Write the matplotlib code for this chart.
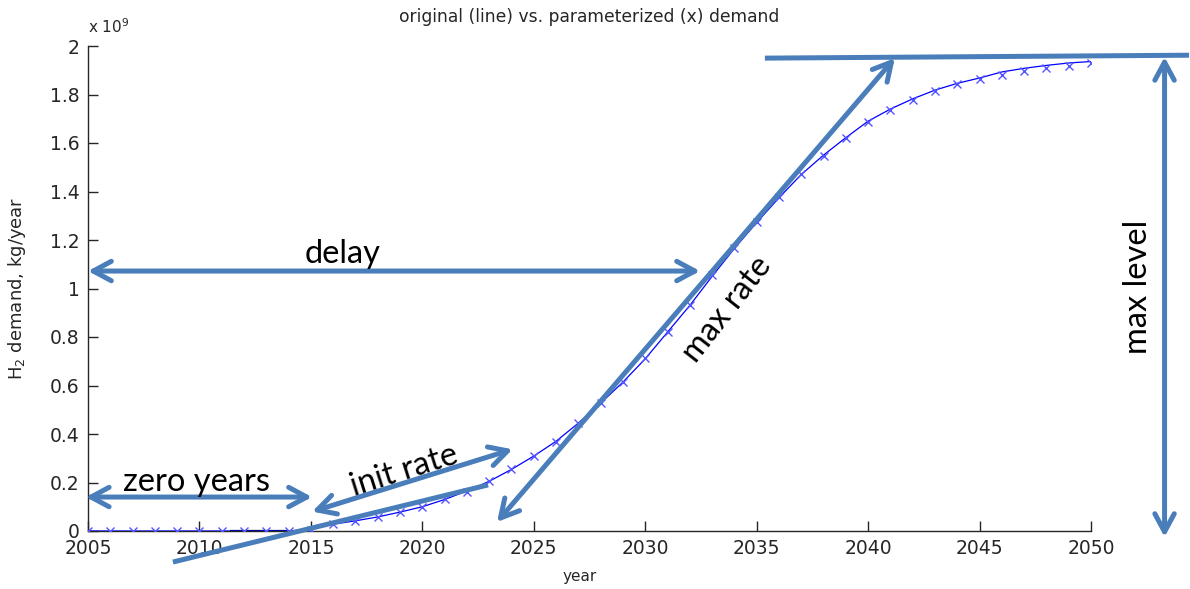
import matplotlib
matplotlib.use("Agg")
import matplotlib.pyplot as plt
import numpy as np

# ---- data (demand in units of 1e9 kg/year) ----
years = list(range(2005, 2051))

param_demand = [0, 0, 0, 0, 0, 0, 0, 0, 0, 0,
                0.005, 0.030, 0.040, 0.058, 0.077, 0.100, 0.130, 0.162, 0.205, 0.254,
                0.309, 0.368, 0.447, 0.527, 0.616, 0.712, 0.822, 0.932, 1.056, 1.168,
                1.276, 1.376, 1.472, 1.548, 1.620, 1.688, 1.738, 1.778, 1.815, 1.842,
                1.863, 1.880, 1.897, 1.908, 1.919, 1.929]

orig_demand = [0, 0, 0, 0, 0, 0, 0, 0, 0, 0,
               0.008, 0.028, 0.042, 0.058, 0.078, 0.100, 0.130, 0.165, 0.205, 0.254,
               0.309, 0.370, 0.445, 0.527, 0.614, 0.710, 0.820, 0.930, 1.050, 1.165,
               1.272, 1.374, 1.470, 1.550, 1.622, 1.690, 1.740, 1.782, 1.818, 1.846,
               1.868, 1.893, 1.908, 1.920, 1.930, 1.936]

# short dark segment of the original series along zero
zero_seg_years = [2011.4, 2013.9]
zero_seg_vals = [0, 0]

y_ticks = [0, 0.2, 0.4, 0.6, 0.8, 1, 1.2, 1.4, 1.6, 1.8, 2]
x_ticks = [2005, 2010, 2015, 2020, 2025, 2030, 2035, 2040, 2045, 2050]

# annotation geometry (data coordinates)
delay_span = ((2005.0, 1.072), (2032.46, 1.072))
zero_span = ((2004.9, 0.140), (2015.05, 0.140))
init_span = ((2015.06, 0.080), (2024.05, 0.337))
init_tangent = ((2008.81, -0.128), (2022.95, 0.190))
max_span = ((2023.35, 0.037), (2041.2, 1.950))
level_line = ((2035.37, 1.950), (2054.4, 1.962))
level_span = ((2053.3, 1.955), (2053.3, -0.025))

ANN = "#4a7ebb"
AXC = "#262626"

fig = plt.figure(figsize=(11.9, 5.89), dpi=100)
ax = fig.add_axes([88 / 1190, 1 - 531 / 589, (1091 - 88) / 1190, (531 - 46) / 589])

ax.plot(years, orig_demand, color="#0000ff", lw=0.9, zorder=3)
ax.plot(years, param_demand, ls="none", marker="x", ms=6, mew=1.0,
        color="#5555ff", zorder=3)
ax.plot(zero_seg_years, zero_seg_vals, color="black", lw=1.6, zorder=2)

ax.set_xlim(2005, 2050)
ax.set_ylim(0, 2)
ax.set_xticks(x_ticks)
ax.set_yticks(y_ticks)
ax.set_yticklabels(["%g" % v for v in y_ticks])
ax.set_xticklabels([str(v) for v in x_ticks])
for s in ("top", "right"):
    ax.spines[s].set_visible(False)
for s in ("left", "bottom"):
    ax.spines[s].set_color(AXC)
    ax.spines[s].set_linewidth(1.0)
ax.tick_params(direction="in", length=7, width=1.0, color=AXC,
               labelsize=13.5, labelcolor=AXC)
ax.tick_params(axis="x", pad=6)
ax.tick_params(axis="y", pad=6)

ax.set_title("original (line) vs. parameterized (x) demand", fontsize=12.3,
             color=AXC, pad=17)
ax.set_xlabel("year", fontsize=11, color=AXC)
ax.xaxis.set_label_coords(0.49, -(569 - 531) / 485)
ax.set_ylabel("H$_2$ demand, kg/year", fontsize=13, color=AXC)
ax.yaxis.set_label_coords(-(88 - 28) / 1003, 0.5)
fig.text(88 / 1190, 1 - 27 / 589, "x 10$^{9}$", fontsize=11, color=AXC,
         va="center", ha="left")


def double_arrow(span):
    (x0, y0), (x1, y1) = span
    ax.annotate("", xy=(x1, y1), xytext=(x0, y0), xycoords="data",
                annotation_clip=False,
                arrowprops=dict(arrowstyle="<->,head_length=1.3,head_width=0.7",
                                mutation_scale=10, color=ANN, lw=3.6,
                                shrinkA=0, shrinkB=0, capstyle="round",
                                joinstyle="round"),
                zorder=4)


def plain_line(span):
    (x0, y0), (x1, y1) = span
    ax.plot([x0, x1], [y0, y1], color=ANN, lw=3.6, clip_on=False,
            solid_capstyle="butt", zorder=4)


double_arrow(delay_span)
double_arrow(zero_span)
double_arrow(init_span)
double_arrow(max_span)
double_arrow(level_span)
plain_line(init_tangent)
plain_line(level_line)

lab = dict(fontsize=23.5, family="Lato", color="black", ha="center", va="center",
           zorder=5)
ax.text(2016.44, 1.142, "delay", **lab)
ax.text(2009.89, 0.202, "zero years", **lab)
ax.text(2019.18, 0.250, "init rate", rotation=17.5, **lab)
ax.text(2033.7, 0.915, "max rate", rotation=52, **lab)
ax.text(2052.1, 1.006, "max level", rotation=90, clip_on=False, **lab)

fig.savefig("out.png", dpi=100)
